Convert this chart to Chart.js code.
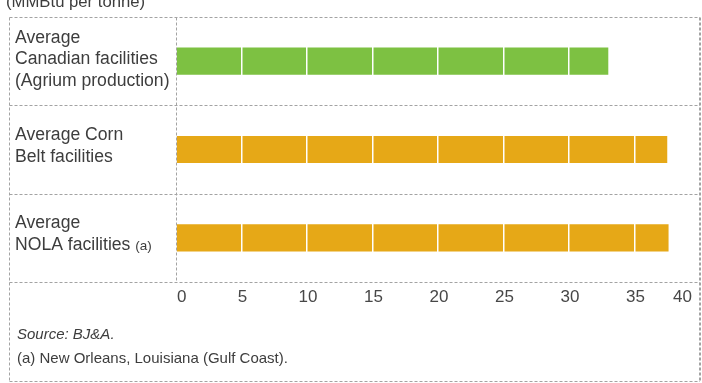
<!DOCTYPE html>
<html>
<head>
<meta charset="utf-8">
<script src="https://cdn.jsdelivr.net/npm/chart.js@4.4.1/dist/chart.umd.min.js"></script>
<style>
  html, body { margin: 0; padding: 0; background: #fff; overflow: hidden; }
  #wrap { width: 702px; height: 383px; position: relative; }
</style>
</head>
<body>
<div id="wrap"><canvas id="c" width="702" height="383"></canvas></div>
<script>
// Natural gas use per tonne of ammonia, by facility group
const unitLabel = '(MMBtu per tonne)';
const categories = [
  ['Average', 'Canadian facilities', '(Agrium production)'],
  ['Average Corn', 'Belt facilities'],
  ['Average', 'NOLA facilities']
];
const categoryNotes = ['', '', '(a)'];
const values = [33, 37.5, 37.6];
const barColors = ['#7dc142', '#e6a817', '#e6a817'];
const tickValues = [0, 5, 10, 15, 20, 25, 30, 35, 40];
const sourceText = 'Source: BJ&A.';
const footnoteText = '(a) New Orleans, Louisiana (Gulf Coast).';

const FONT = '"Liberation Sans", Arial, Helvetica, sans-serif';
const TEXT = '#3d3d3d';

// Dashed frame, row labels, axis numbers and notes
const framePlugin = {
  id: 'framePlugin',
  afterDraw(chart) {
    const { ctx, chartArea: a, scales: { x, y } } = chart;
    const left = 9.5, bottom = 381.5;
    const crisp = v => Math.round(v) + 0.5;
    ctx.save();

    // dashed rules
    ctx.strokeStyle = '#a3a3a3';
    ctx.lineWidth = 1;
    ctx.setLineDash([3, 2]);
    const rows = [a.top];
    for (let i = 0; i < categories.length - 1; i++) {
      rows.push((y.getPixelForValue(i) + y.getPixelForValue(i + 1)) / 2);
    }
    rows.push(a.bottom);
    ctx.beginPath();
    rows.forEach(r => { ctx.moveTo(left, crisp(r)); ctx.lineTo(a.right, crisp(r)); });
    ctx.moveTo(left, bottom); ctx.lineTo(a.right, bottom);
    ctx.moveTo(left, crisp(a.top)); ctx.lineTo(left, bottom);
    ctx.moveTo(crisp(a.left), crisp(a.top)); ctx.lineTo(crisp(a.left), crisp(a.bottom));
    ctx.stroke();
    ctx.lineWidth = 2;
    ctx.beginPath();
    ctx.moveTo(a.right, crisp(a.top)); ctx.lineTo(a.right, bottom);
    ctx.stroke();
    ctx.setLineDash([]);

    // unit label
    ctx.fillStyle = TEXT;
    ctx.textAlign = 'left';
    ctx.textBaseline = 'alphabetic';
    ctx.font = '16.7px ' + FONT;
    ctx.fillText(unitLabel, 6, 7);

    // category labels
    ctx.textBaseline = 'middle';
    categories.forEach((lines, i) => {
      const three = lines.length > 2;
      const cy = y.getPixelForValue(i) + (three ? -1.7 : -3.5);
      const lh = three ? 21.5 : 22.5;
      lines.forEach((line, j) => {
        const ly = cy + (j - (lines.length - 1) / 2) * lh;
        ctx.font = '17.6px ' + FONT;
        ctx.fillText(line, 15, ly);
        if (j === lines.length - 1 && categoryNotes[i]) {
          const w = ctx.measureText(line + ' ').width;
          ctx.font = '13.5px ' + FONT;
          ctx.fillText(categoryNotes[i], 15 + w, ly + 1);
        }
      });
    });

    // axis numbers
    ctx.font = '17px ' + FONT;
    ctx.fillStyle = '#474747';
    tickValues.forEach((v, i) => {
      const px = x.getPixelForValue(v);
      if (i === 0) { ctx.textAlign = 'left'; ctx.fillText(String(v), px + 1, 297); }
      else if (i === tickValues.length - 1) { ctx.textAlign = 'right'; ctx.fillText(String(v), px - 8, 297); }
      else { ctx.textAlign = 'center'; ctx.fillText(String(v), px + 1, 297); }
    });

    // notes
    ctx.textAlign = 'left';
    ctx.fillStyle = TEXT;
    ctx.font = 'italic 15px ' + FONT;
    ctx.fillText(sourceText, 17, 335);
    ctx.font = '15px ' + FONT;
    ctx.fillText(footnoteText, 17, 359);
    ctx.restore();
  }
};

new Chart(document.getElementById('c'), {
  type: 'bar',
  data: {
    labels: categories.map(c => c.join(' ')),
    datasets: [{
      data: values,
      backgroundColor: barColors,
      borderWidth: 0,
      categoryPercentage: 1,
      barPercentage: 0.307
    }]
  },
  options: {
    indexAxis: 'y',
    responsive: false,
    devicePixelRatio: 1,
    animation: false,
    layout: { padding: { left: 176, right: 2, top: 17, bottom: 101 } },
    plugins: { legend: { display: false }, tooltip: { enabled: false }, title: { display: false } },
    scales: {
      x: {
        min: 0,
        max: 40,
        ticks: { stepSize: 5, display: false },
        border: { display: false },
        grid: { color: '#ffffff', lineWidth: 1.5, drawTicks: false, z: 1 }
      },
      y: { display: false }
    }
  },
  plugins: [framePlugin]
});
</script>
</body>
</html>
